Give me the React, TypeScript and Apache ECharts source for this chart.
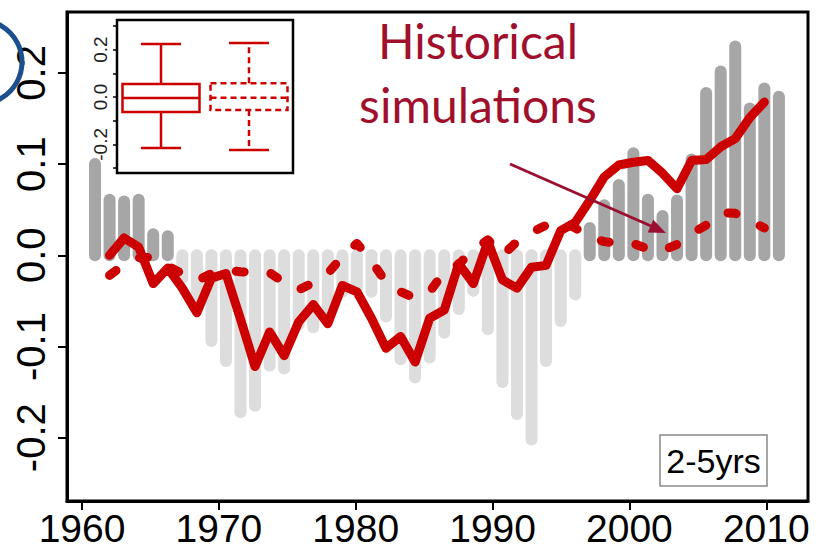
import React, { useEffect, useRef } from "react";
import * as echarts from "echarts";

// Bar series (own hidden time axis, as in the original composite figure)
const barYears = [
  1961, 1962, 1963, 1964, 1965, 1966, 1967, 1968, 1969, 1970, 1971, 1972,
  1973, 1974, 1975, 1976, 1977, 1978, 1979, 1980, 1981, 1982, 1983, 1984,
  1985, 1986, 1987, 1988, 1989, 1990, 1991, 1992, 1993, 1994, 1995, 1996,
  1997, 1998, 1999, 2000, 2001, 2002, 2003, 2004, 2005, 2006, 2007, 2008,
];
const barValues = [
  0.1, 0.061, 0.059, 0.061, 0.023, 0.021, -0.025, -0.05, -0.094, -0.116,
  -0.172, -0.165, -0.121, -0.124, -0.076, -0.079, -0.065, -0.04, -0.035,
  -0.04, -0.067, -0.114, -0.134, -0.112, -0.085, -0.059, -0.039, -0.081,
  -0.139, -0.174, -0.202, -0.116, -0.072, -0.043, 0.03, 0.055, 0.077, 0.112,
  0.061, 0.043, 0.06, 0.105, 0.178, 0.2015, 0.229, 0.161, 0.183, 0.174,
];

// Red lines
const lineYears = [
  1962, 1963, 1964, 1965, 1966, 1967, 1968, 1969, 1970, 1971, 1972, 1973,
  1974, 1975, 1976, 1977, 1978, 1979, 1980, 1981, 1982, 1983, 1984, 1985,
  1986, 1987, 1988, 1989, 1990, 1991, 1992, 1993, 1994, 1995, 1996, 1997,
  1998, 1999, 2000, 2001, 2002, 2003, 2004, 2005, 2006, 2007,
];
const observed = [
  0.0, 0.019, 0.009, -0.031, -0.014, -0.036, -0.063, -0.025, -0.02, -0.07,
  -0.122, -0.084, -0.11, -0.073, -0.054, -0.075, -0.033, -0.04, -0.069,
  -0.102, -0.089, -0.117, -0.069, -0.06, -0.009, -0.031, 0.015, -0.027,
  -0.036, -0.013, -0.011, 0.027, 0.036, 0.06, 0.086, 0.099, 0.102, 0.104,
  0.09, 0.073, 0.104, 0.105, 0.119, 0.128, 0.151, 0.168,
];
const simulated = [
  -0.022, -0.01, -0.003, -0.002, -0.012, -0.02, -0.028, -0.02, -0.016,
  -0.018, -0.019, -0.019, -0.03, -0.038, -0.03, -0.02, -0.001, 0.013,
  -0.006, -0.03, -0.04, -0.047, -0.04, -0.018, -0.01, 0.006, 0.017, 0.0,
  0.015, 0.025, 0.033, 0.037, 0.03, 0.02, 0.015, 0.013, 0.013, 0.007, 0.005,
  0.012, 0.024, 0.033, 0.047, 0.046, 0.038, 0.03,
];

const xTicks = [1960, 1970, 1980, 1990, 2000, 2010];
const yTicks = [-0.2, -0.1, 0, 0.1, 0.2];

// Inset box plot: [min, q1, median, q3, max]
const insetCategories = ["observed", "simulated"];
const insetObserved = [-0.215, -0.063, -0.004, 0.055, 0.224];
const insetSimulated = [-0.224, -0.055, -0.003, 0.058, 0.228];

const RED = "#cc0000";
const MAROON = "#a0102d";

export default function App() {
  const ref = useRef<HTMLDivElement>(null);

  useEffect(() => {
    const chart = echarts.init(ref.current!, null, { renderer: "svg" });

    const insetData = [
      [0, ...insetObserved],
      [1, ...insetSimulated],
    ];

    const option: any = {
      animation: false,
      backgroundColor: "#ffffff",
      grid: [
        {
          left: 67,
          top: 12,
          width: 741,
          height: 489,
          show: true,
          borderColor: "#000",
          borderWidth: 3,
          backgroundColor: "transparent",
          outerBoundsMode: "none",
        },
        { left: 117, top: 26, width: 176, height: 142, outerBoundsMode: "none" },
      ],
      xAxis: [
        {
          type: "value",
          gridIndex: 0,
          position: "bottom",
          min: 1958.9,
          max: 2013.05,
          axisLine: { show: true, onZero: false, lineStyle: { color: "#000", width: 3 } },
          splitLine: { show: false },
          axisTick: {
            show: true,
            inside: false,
            customValues: xTicks,
            length: 9,
            lineStyle: { color: "#000", width: 2 },
          },
          axisLabel: {
            customValues: xTicks,
            fontSize: 39,
            fontFamily: "Liberation Sans, Arial, sans-serif",
            color: "#000",
            margin: 8,
            formatter: (v: number) => String(v),
          },
        },
        {
          type: "value",
          gridIndex: 0,
          min: 1959.076,
          max: 2010.0,
          show: false,
          axisLine: { onZero: false },
        },
        {
          type: "category",
          gridIndex: 1,
          data: insetCategories,
          show: false,
          axisLine: { onZero: false },
        },
      ],
      yAxis: [
        {
          type: "value",
          gridIndex: 0,
          position: "left",
          min: -0.2694,
          max: 0.2668,
          axisLine: { show: true, onZero: false, lineStyle: { color: "#000", width: 3 } },
          splitLine: { show: false },
          axisTick: {
            show: true,
            inside: false,
            customValues: yTicks,
            length: 9,
            lineStyle: { color: "#000", width: 2 },
          },
          axisLabel: {
            customValues: yTicks,
            rotate: 90,
            fontSize: 40,
            fontFamily: "Liberation Sans, Arial, sans-serif",
            color: "#000",
            margin: 16,
            formatter: (v: number) => v.toFixed(1),
          },
        },
        {
          type: "value",
          gridIndex: 1,
          position: "left",
          min: -0.3,
          max: 0.3,
          interval: 0.1,
          axisLine: { show: false, onZero: false },
          splitLine: { show: false },
          axisTick: { show: true, inside: false, length: 4, lineStyle: { color: "#000", width: 1.5 } },
          axisLabel: {
            rotate: 90,
            fontSize: 19,
            fontFamily: "Liberation Sans, Arial, sans-serif",
            color: "#222",
            margin: 7,
            formatter: (v: number) => {
              const k = Math.round(v * 10);
              return k % 2 === 0 && Math.abs(k) < 3 ? (k / 10).toFixed(1) : "";
            },
          },
        },
      ],
      series: [
        {
          type: "custom",
          xAxisIndex: 1,
          yAxisIndex: 0,
          silent: true,
          clip: false,
          z: 1,
          encode: { x: 0, y: 1 },
          data: barYears.map((y, i) => [y, barValues[i]]),
          renderItem: (params: any, api: any) => {
            const x = api.value(0);
            const v = api.value(1);
            const a = api.coord([x, 0]);
            const b = api.coord([x, v]);
            return {
              type: "line",
              shape: { x1: a[0], y1: a[1], x2: b[0], y2: b[1] },
              style: {
                stroke: v >= 0 ? "#a6a6a6" : "#dddddd",
                lineWidth: 12,
                lineCap: "round",
              },
            };
          },
        },
        {
          type: "line",
          name: "observed",
          xAxisIndex: 1,
          yAxisIndex: 0,
          silent: true,
          z: 3,
          symbol: "none",
          data: lineYears.map((y, i) => [y, observed[i]]),
          lineStyle: { color: RED, width: 9, cap: "round", join: "round" },
        },
        {
          type: "line",
          name: "simulated",
          xAxisIndex: 1,
          yAxisIndex: 0,
          silent: true,
          z: 4,
          symbol: "none",
          data: lineYears.map((y, i) => [y, simulated[i]]),
          lineStyle: {
            color: RED,
            width: 9,
            type: [8, 27],
            cap: "round",
            join: "round",
          },
        },
        {
          type: "custom",
          xAxisIndex: 2,
          yAxisIndex: 1,
          silent: true,
          z: 5,
          encode: { x: 0, y: [1, 2, 3, 4, 5] },
          data: insetData,
          renderItem: (params: any, api: any) => {
            const c = api.value(0);
            const mn = api.coord([c, api.value(1)]);
            const q1 = api.coord([c, api.value(2)]);
            const md = api.coord([c, api.value(3)]);
            const q3 = api.coord([c, api.value(4)]);
            const mx = api.coord([c, api.value(5)]);
            const xc = mn[0];
            const bw = 77;
            const cw = 40;
            const dash = c === 1 ? [6, 4] : null;
            const st = (extra: any = {}) => ({
              stroke: RED,
              lineWidth: 2.5,
              fill: "none",
              lineDash: dash,
              ...extra,
            });
            return {
              type: "group",
              children: [
                {
                  type: "rect",
                  shape: { x: xc - bw / 2, y: q3[1], width: bw, height: q1[1] - q3[1] },
                  style: st(),
                },
                {
                  type: "line",
                  shape: { x1: xc - bw / 2, y1: md[1], x2: xc + bw / 2, y2: md[1] },
                  style: st(),
                },
                {
                  type: "line",
                  shape: { x1: xc, y1: q3[1], x2: xc, y2: mx[1] },
                  style: st(),
                },
                {
                  type: "line",
                  shape: { x1: xc, y1: q1[1], x2: xc, y2: mn[1] },
                  style: st(),
                },
                {
                  type: "line",
                  shape: { x1: xc - cw / 2, y1: mx[1], x2: xc + cw / 2, y2: mx[1] },
                  style: st({ lineDash: null }),
                },
                {
                  type: "line",
                  shape: { x1: xc - cw / 2, y1: mn[1], x2: xc + cw / 2, y2: mn[1] },
                  style: st({ lineDash: null }),
                },
              ],
            };
          },
        },
      ],
      graphic: [
        {
          type: "circle",
          z: 10,
          shape: { cx: -20, cy: 62, r: 42 },
          style: { fill: "none", stroke: "#1c4f8f", lineWidth: 5 },
        },
        {
          type: "rect",
          z: 10,
          shape: { x: 117, y: 20, width: 176, height: 153 },
          style: { fill: "none", stroke: "#000", lineWidth: 2.5 },
        },
        {
          type: "text",
          z: 10,
          x: 478,
          y: 40,
          style: {
            text: "Historical",
            fill: MAROON,
            font: "48px Lato, 'Open Sans', sans-serif",
            align: "center",
            verticalAlign: "middle",
          },
        },
        {
          type: "text",
          z: 10,
          x: 478,
          y: 104,
          style: {
            text: "simulations",
            fill: MAROON,
            font: "48px Lato, 'Open Sans', sans-serif",
            align: "center",
            verticalAlign: "middle",
          },
        },
        {
          type: "line",
          z: 10,
          shape: { x1: 510, y1: 164, x2: 651, y2: 226 },
          style: { stroke: "#9b1030", lineWidth: 3 },
        },
        {
          type: "polygon",
          z: 10,
          shape: {
            points: [
              [666, 233],
              [647.7, 232.5],
              [653.3, 219.7],
            ],
          },
          style: { fill: "#9b1030" },
        },
        {
          type: "rect",
          z: 10,
          shape: { x: 660, y: 435, width: 107, height: 51 },
          style: { fill: "#fff", stroke: "#888", lineWidth: 1.5 },
        },
        {
          type: "text",
          z: 11,
          x: 713.5,
          y: 461,
          style: {
            text: "2-5yrs",
            fill: "#000",
            font: "34px 'Liberation Sans', Arial, sans-serif",
            align: "center",
            verticalAlign: "middle",
          },
        },
      ],
    };

    chart.setOption(option);
    return () => chart.dispose();
  }, []);

  return (
    <div
      ref={ref}
      style={{ position: "fixed", left: 0, top: 0, width: 818, height: 550 }}
    />
  );
}
